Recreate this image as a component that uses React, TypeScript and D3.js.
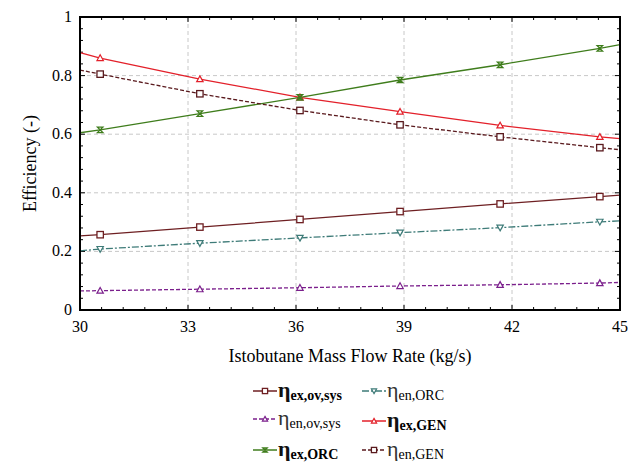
import React from "react";
import * as d3 from "d3";

const xValues = [30, 30.56, 33.33, 36.11, 38.89, 41.67, 44.44, 45];
const markerIdx = [1, 2, 3, 4, 5, 6];
const exGEN = [0.878, 0.86, 0.788, 0.726, 0.677, 0.63, 0.591, 0.585];
const enGEN = [0.819, 0.805, 0.738, 0.681, 0.632, 0.591, 0.554, 0.547];
const exORC = [0.605, 0.615, 0.67, 0.726, 0.785, 0.837, 0.893, 0.906];
const exOvSys = [0.253, 0.257, 0.283, 0.309, 0.336, 0.362, 0.387, 0.392];
const enORC = [0.202, 0.208, 0.228, 0.246, 0.264, 0.281, 0.301, 0.304];
const enOvSys = [0.065, 0.066, 0.071, 0.076, 0.082, 0.086, 0.092, 0.094];
const xTicks = [30, 33, 36, 39, 42, 45];
const yTicks = [0, 0.2, 0.4, 0.6, 0.8, 1];
const yTickLabels = ["0", "0.2", "0.4", "0.6", "0.8", "1"];

type Series = { key: string; sub: string; bold: boolean; values: number[]; color: string; dash: string; marker: string };

const series: Series[] = [
  { key: "exOvSys", sub: "ex,ov,sys", bold: true, values: exOvSys, color: "#6e1f22", dash: "", marker: "square" },
  { key: "enORC", sub: "en,ORC", bold: false, values: enORC, color: "#3e7b78", dash: "7,2,2,2", marker: "tridown" },
  { key: "enOvSys", sub: "en,ov,sys", bold: false, values: enOvSys, color: "#7b1f8c", dash: "4,2", marker: "triup" },
  { key: "exGEN", sub: "ex,GEN", bold: true, values: exGEN, color: "#e3202a", dash: "", marker: "triup" },
  { key: "exORC", sub: "ex,ORC", bold: true, values: exORC, color: "#3f7d1c", dash: "", marker: "xbox" },
  { key: "enGEN", sub: "en,GEN", bold: false, values: enGEN, color: "#5a1a1e", dash: "4,2", marker: "square" },
];

const left = 80, right = 620, top = 17, bottom = 310;

function Marker({ type, x, y, color, s = 3.2 }: { type: string; x: number; y: number; color: string; s?: number }) {
  if (type === "square")
    return <rect x={x - s} y={y - s} width={2 * s} height={2 * s} fill="white" stroke={color} strokeWidth={1.3} />;
  if (type === "triup")
    return <path d={`M${x},${y - s}L${x + s},${y + s * 0.8}L${x - s},${y + s * 0.8}Z`} fill="white" stroke={color} strokeWidth={1.2} />;
  if (type === "tridown")
    return <path d={`M${x},${y + s}L${x + s},${y - s * 0.8}L${x - s},${y - s * 0.8}Z`} fill="white" stroke={color} strokeWidth={1.2} />;
  const t = s * 0.85;
  return (
    <g stroke={color} strokeWidth={1.3} fill="none">
      <path d={`M${x - t},${y - t}L${x + t},${y - t}L${x - t},${y + t}L${x + t},${y + t}Z`} />
    </g>
  );
}

export default function App() {
  const xs = d3.scaleLinear().domain([30, 45]).range([left, right]);
  const ys = d3.scaleLinear().domain([0, 1]).range([bottom, top]);
  const line = d3.line<number>().x((_, i) => xs(xValues[i])).y((d) => ys(d));

  const xMinor = d3.range(30, 45.001, 0.6);
  const yMinor = d3.range(0, 1.0001, 0.04);

  const legendPos = [
    { x: 253, y: 391 },
    { x: 362, y: 391 },
    { x: 253, y: 419 },
    { x: 362, y: 421 },
    { x: 253, y: 450 },
    { x: 362, y: 450 },
  ];

  const font = "'Liberation Serif', 'Times New Roman', serif";

  return (
    <svg width={644} height={465} style={{ position: "absolute", left: 0, top: 0, background: "white" }} fontFamily={font}>
      {xTicks.slice(1, -1).map((t) => (
        <line key={"gx" + t} x1={xs(t)} x2={xs(t)} y1={top} y2={bottom} stroke="#c8c8c8" strokeDasharray="4,3" strokeWidth={1} />
      ))}
      {yTicks.slice(1, -1).map((t) => (
        <line key={"gy" + t} x1={left} x2={right} y1={ys(t)} y2={ys(t)} stroke="#c8c8c8" strokeDasharray="4,3" strokeWidth={1} />
      ))}
      {xMinor.map((t, i) => (
        <g key={"xm" + i}>
          <line x1={xs(t)} x2={xs(t)} y1={bottom} y2={bottom - (i % 5 === 0 ? 5 : 3)} stroke="black" />
          <line x1={xs(t)} x2={xs(t)} y1={top} y2={top + (i % 5 === 0 ? 5 : 3)} stroke="black" />
        </g>
      ))}
      {yMinor.map((t, i) => (
        <g key={"ym" + i}>
          <line x1={left} x2={left + (i % 5 === 0 ? 5 : 3)} y1={ys(t)} y2={ys(t)} stroke="black" />
          <line x1={right} x2={right - (i % 5 === 0 ? 5 : 3)} y1={ys(t)} y2={ys(t)} stroke="black" />
        </g>
      ))}
      {series.map((s) => (
        <g key={s.key}>
          <path d={line(s.values) || ""} fill="none" stroke={s.color} strokeWidth={1.3} strokeDasharray={s.dash} />
          {markerIdx.map((i) => (
            <Marker key={i} type={s.marker} x={xs(xValues[i])} y={ys(s.values[i])} color={s.color} />
          ))}
        </g>
      ))}
      <rect x={left} y={top} width={right - left} height={bottom - top} fill="none" stroke="black" strokeWidth={2} />
      {xTicks.map((t) => (
        <text key={"xl" + t} x={xs(t)} y={bottom + 22} textAnchor="middle" fontSize={16}>
          {t}
        </text>
      ))}
      {yTicks.map((t, i) => (
        <text key={"yl" + t} x={left - 8} y={ys(t) + 5} textAnchor="end" fontSize={16}>
          {yTickLabels[i]}
        </text>
      ))}
      <text x={350} y={362} textAnchor="middle" fontSize={18}>
        Istobutane Mass Flow Rate (kg/s)
      </text>
      <text transform={`translate(36,${(top + bottom) / 2}) rotate(-90)`} textAnchor="middle" fontSize={18}>
        Efficiency (-)
      </text>
      {series.map((s, i) => {
        const p = legendPos[i];
        return (
          <g key={"lg" + s.key}>
            <line x1={p.x} x2={p.x + 24} y1={p.y} y2={p.y} stroke={s.color} strokeWidth={1.5} strokeDasharray={s.dash} />
            <Marker type={s.marker} x={p.x + 12} y={p.y} color={s.color} s={2.6} />
            <text x={p.x + 25} y={p.y + 6} fontWeight={s.bold ? "bold" : "normal"}>
              <tspan fontSize={22} fill={s.bold ? "#111" : "#333"}>η</tspan>
              <tspan fontSize={14} dy={3}>{s.sub}</tspan>
            </text>
          </g>
        );
      })}
    </svg>
  );
}
